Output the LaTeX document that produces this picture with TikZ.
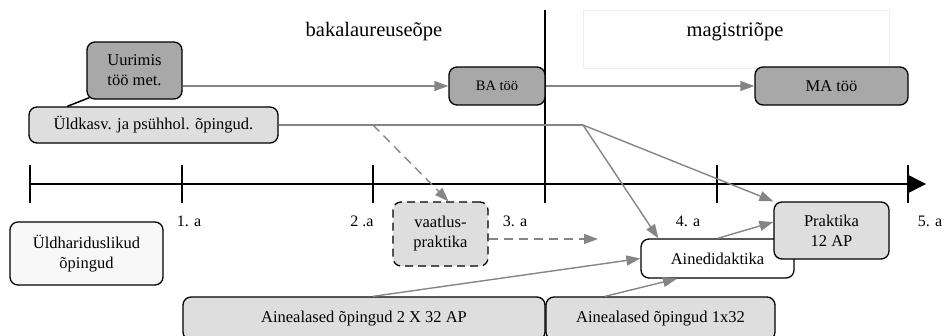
\documentclass[tikz,border=0pt]{standalone}
\usepackage{fontspec}
\setmainfont{Liberation Serif}
\usetikzlibrary{arrows.meta}
\definecolor{darkbox}{HTML}{A8A8A8}
\definecolor{lightbox}{HTML}{DEDEDE}
\definecolor{paper}{HTML}{F8F8F8}
\definecolor{link}{HTML}{858585}
\definecolor{faint}{HTML}{EEEEEE}

\begin{document}
\begin{tikzpicture}[x=1pt,y=-1pt,
  box/.style={draw=black, line width=1.3pt, rounded corners=8pt, inner sep=0pt,
    align=center, font=\fontsize{16.5}{20}\selectfont},
  flow/.style={draw=link, line width=1.4pt,
    -{Triangle[length=14pt,width=10pt,fill=link]}},
  plain/.style={draw=link, line width=1.4pt},
  axis/.style={draw=black, line width=1.4pt},
  yearlabel/.style={font=\fontsize{16}{18}\selectfont},
  title/.style={font=\fontsize{20.5}{24}\selectfont}]

\useasboundingbox (0,0) rectangle (949,335);
\clip (0,0) rectangle (949,335);

% headings
\node[draw=faint, line width=0.6pt, fill=white, minimum width=306pt, minimum height=58pt,
  inner sep=0pt] (maghead) at (736,39) {};
\node[title] (batitle) at (374,32) {bakalaureuseõpe};
\node[title] (matitle) at (735,32) {magistriõpe};

% time axis
\coordinate (t0) at (30,184);
\coordinate (t5) at (926,184);
\draw[axis, -{Triangle[length=17pt,width=17pt]}] (t0) -- (t5);
\foreach \tx in {30,182,373,717,908} {
  \draw[axis] (\tx,165) -- (\tx,203);
}
% divider between the two study levels
\coordinate (vtop) at (545,10);
\coordinate (vbot) at (545,203);
\draw[axis] (vtop) -- (vbot);

\node[yearlabel] (y1) at (189,221) {1. a};
\node[yearlabel] (y2) at (362,221) {2 .a};
\node[yearlabel] (y3) at (515,221) {3. a};
\node[yearlabel] (y4) at (688,221) {4. a};
\node[yearlabel] (y5) at (930,221) {5. a};

% course boxes
\node[box, fill=darkbox, minimum width=95pt, minimum height=57pt] (uur) at (134.5,70.5)
  {Uurimis\\töö met.};
\node[box, fill=lightbox, minimum width=249pt, minimum height=36pt] (uld) at (153.5,125)
  {Üldkasv. ja psühhol. õpingud.};
\node[box, fill=darkbox, minimum width=96pt, minimum height=38pt,
  font=\fontsize{14.5}{17}\selectfont] (ba) at (497,86) {BA töö};
\node[box, fill=darkbox, minimum width=153pt, minimum height=38pt] (ma) at (831.5,86) {MA töö};
\node[box, fill=paper, minimum width=153pt, minimum height=63pt] (yld) at (86.5,253.5)
  {Üldhariduslikud\\õpingud};
\node[box, fill=lightbox, dash pattern=on 8pt off 5pt, minimum width=95pt, minimum height=64pt]
  (vaat) at (440.5,234) {vaatlus-\\praktika};
\node[box, fill=white, minimum width=153pt, minimum height=39pt] (aine) at (717.5,258.5)
  {Ainedidaktika};
\node[box, fill=lightbox, minimum width=115pt, minimum height=57pt] (prak) at (831.5,230.5)
  {Praktika\\12 AP};
\node[box, fill=lightbox, minimum width=362pt, minimum height=43pt] (a232) at (364,318.5)
  {Ainealased õpingud 2 X 32 AP};
\node[box, fill=lightbox, minimum width=229pt, minimum height=43pt] (a132) at (660.5,318.5)
  {Ainealased õpingud 1x32};

% connectors
\draw[line width=1.5pt] ([xshift=3pt,yshift=2pt]uur.south west) -- ([xshift=39pt]uld.north west);
\draw[flow] (uur.east |- ba.west) -- (ba.west);
\draw[flow] (ba.east) -- (ma.west);

\coordinate (br) at (583,125);
\draw[plain] (uld.east) -- (br);
\draw[flow] (br) -- ([xshift=18pt]aine.north west);
\draw[flow] (br) -- (prak.north west);

\coordinate (ds) at (373,125);
\draw[flow, dash pattern=on 9pt off 6pt] (ds) -- ([xshift=8pt]vaat.north);
\coordinate (vend) at (598,239);
\draw[flow, dash pattern=on 9pt off 6pt] (vaat.east |- vend) -- (vend);

\draw[flow] (aine.north) -- ([yshift=8.5pt]prak.west);
\draw[flow] ([xshift=9pt]a232.north) -- (aine.west);
\draw[flow] ([xshift=-55.5pt]a132.north) -- ([xshift=-40.5pt]aine.south);
\end{tikzpicture}
\end{document}
